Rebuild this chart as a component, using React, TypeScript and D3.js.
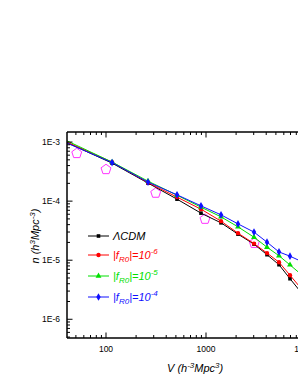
import { useEffect, useRef } from "react"
import * as d3 from "d3"

// cell volumes V (h^-3 Mpc^3) of the simulated points
const volumes = [33, 115, 263, 513, 891, 1413, 2089, 3020, 4074, 5370, 6918, 8900]

// number density n (h^3 Mpc^-3)
const lcdm = [1.15e-3, 4.4e-4, 2.02e-4, 1.08e-4, 6.26e-5, 4.29e-5, 2.76e-5, 1.87e-5, 1.24e-5, 8.39e-6, 4.86e-6, 2.87e-6]
const fr6 = [1.17e-3, 4.58e-4, 2.06e-4, 1.17e-4, 7.31e-5, 4.58e-5, 2.87e-5, 1.91e-5, 1.32e-5, 9.25e-6, 5.57e-6, 3.35e-6]
const fr5 = [1.24e-3, 4.58e-4, 2.18e-4, 1.26e-4, 7.91e-5, 5.42e-5, 3.67e-5, 2.45e-5, 1.66e-5, 1.19e-5, 8.32e-6, 5.79e-6]
const fr4 = [1.12e-3, 4.5e-4, 2.1e-4, 1.28e-4, 8.32e-5, 5.86e-5, 4.12e-5, 2.99e-5, 2.02e-5, 1.38e-5, 1.17e-5, 9.6e-6]

// observational points (open pentagons)
const obsV = [51, 100, 314, 977, 3041]
const obsN = [6.43e-4, 3.44e-4, 1.37e-4, 4.96e-5, 1.94e-5]

const xTicks = [100, 1000, 10000]
const yTicks = [1e-3, 1e-4, 1e-5, 1e-6]
const yTickLabels = ["1E-3", "1E-4", "1E-5", "1E-6"]

const series = [
  { name: "lcdm", exp: "", values: lcdm, color: "#000000", symbol: "square" },
  { name: "fr6", exp: "-6", values: fr6, color: "#ff0000", symbol: "circle" },
  { name: "fr5", exp: "-5", values: fr5, color: "#00e000", symbol: "triangle" },
  { name: "fr4", exp: "-4", values: fr4, color: "#1010ff", symbol: "diamond" },
]

const W = 298
const H = 385
const FONT = "'Liberation Sans', Arial, sans-serif"

function pentagon(r: number) {
  const pts: string[] = []
  for (let i = 0; i < 5; i++) {
    const a = -Math.PI / 2 + (i * 2 * Math.PI) / 5
    pts.push(`${(r * Math.cos(a)).toFixed(2)},${(r * Math.sin(a)).toFixed(2)}`)
  }
  return "M" + pts.join("L") + "Z"
}

function symbolPath(kind: string) {
  if (kind === "square") return d3.symbol(d3.symbolSquare, 13)()
  if (kind === "circle") return d3.symbol(d3.symbolCircle, 15)()
  if (kind === "triangle") return d3.symbol(d3.symbolTriangle, 15)()
  return d3.symbol(d3.symbolDiamond, 17)()
}

export default function App() {
  const svgRef = useRef<SVGSVGElement>(null)

  useEffect(() => {
    const svg = d3.select(svgRef.current)
    svg.selectAll("*").remove()

    const left = 67
    const right = 320
    const top = 132
    const bottom = 338

    const x = d3.scaleLog().domain([Math.pow(10, 1.61), Math.pow(10, 4.14)]).range([left, right])
    const y = d3.scaleLog().domain([4.82e-7, 1.48e-3]).range([bottom, top])

    svg.append("rect").attr("width", W).attr("height", H).attr("fill", "#fff")

    svg
      .append("defs")
      .append("clipPath")
      .attr("id", "plot-clip")
      .append("rect")
      .attr("x", left)
      .attr("y", top)
      .attr("width", right - left)
      .attr("height", bottom - top)

    const plot = svg.append("g").attr("clip-path", "url(#plot-clip)")

    // pentagons
    plot
      .selectAll("path.obs")
      .data(obsV.map((v, i) => ({ v, n: obsN[i] })))
      .join("path")
      .attr("class", "obs")
      .attr("d", pentagon(5.2))
      .attr("transform", (d) => `translate(${x(d.v)},${y(d.n)})`)
      .attr("fill", "none")
      .attr("stroke", "#ff33ff")
      .attr("stroke-width", 1)

    const line = d3
      .line<number>()
      .x((_, i) => x(volumes[i]))
      .y((d) => y(d))

    series.forEach((s) => {
      plot
        .append("path")
        .datum(s.values)
        .attr("fill", "none")
        .attr("stroke", s.color)
        .attr("stroke-width", 1)
        .attr("d", line)
      plot
        .selectAll(`path.m-${s.name}`)
        .data(s.values)
        .join("path")
        .attr("class", `m-${s.name}`)
        .attr("d", symbolPath(s.symbol))
        .attr("transform", (d, i) => `translate(${x(volumes[i])},${y(d)})`)
        .attr("fill", s.color)
    })

    // axes frame
    const axis = svg.append("g").attr("stroke", "#000").attr("fill", "none")
    axis.append("line").attr("x1", left).attr("x2", right).attr("y1", bottom).attr("y2", bottom).attr("stroke-width", 1.5)
    axis.append("line").attr("x1", left).attr("x2", right).attr("y1", top).attr("y2", top).attr("stroke-width", 1.5)
    axis.append("line").attr("x1", left).attr("x2", left).attr("y1", top).attr("y2", bottom).attr("stroke-width", 1.5)

    // x ticks
    const xMinor: number[] = []
    for (let dec = 10; dec <= 10000; dec *= 10) {
      for (let k = 2; k <= 9; k++) {
        const v = dec * k
        if (x(v) > left && x(v) < right) xMinor.push(v)
      }
    }
    xMinor.forEach((v) => {
      axis.append("line").attr("x1", x(v)).attr("x2", x(v)).attr("y1", bottom).attr("y2", bottom - 3).attr("stroke-width", 1)
      axis.append("line").attr("x1", x(v)).attr("x2", x(v)).attr("y1", top).attr("y2", top + 3).attr("stroke-width", 1)
    })
    xTicks.forEach((v) => {
      axis.append("line").attr("x1", x(v)).attr("x2", x(v)).attr("y1", bottom).attr("y2", bottom - 5.5).attr("stroke-width", 1)
      axis.append("line").attr("x1", x(v)).attr("x2", x(v)).attr("y1", top).attr("y2", top + 5.5).attr("stroke-width", 1)
      svg
        .append("text")
        .attr("x", x(v))
        .attr("y", bottom + 14)
        .attr("text-anchor", "middle")
        .attr("font-family", FONT)
        .attr("font-size", 8.5)
        .text(String(v))
    })

    // y ticks
    const yMinor: number[] = []
    for (let dec = 1e-7; dec <= 1e-3; dec *= 10) {
      for (let k = 2; k <= 9; k++) {
        const v = dec * k
        if (y(v) > top && y(v) < bottom) yMinor.push(v)
      }
    }
    yMinor.forEach((v) => {
      axis.append("line").attr("x1", left).attr("x2", left + 3).attr("y1", y(v)).attr("y2", y(v)).attr("stroke-width", 1)
    })
    yTicks.forEach((v, i) => {
      axis.append("line").attr("x1", left).attr("x2", left + 5.5).attr("y1", y(v)).attr("y2", y(v)).attr("stroke-width", 1)
      svg
        .append("text")
        .attr("x", left - 7)
        .attr("y", y(v) + 3)
        .attr("text-anchor", "end")
        .attr("font-family", FONT)
        .attr("font-size", 8.5)
        .text(yTickLabels[i])
    })

    // axis titles
    const xt = svg
      .append("text")
      .attr("x", 167)
      .attr("y", 372)
      .attr("font-family", FONT)
      .attr("font-size", 11)
      .attr("font-style", "italic")
    xt.append("tspan").text("V (h")
    xt.append("tspan").attr("dy", -4).attr("font-size", 8).text("-3")
    xt.append("tspan").attr("dy", 4).text("Mpc")
    xt.append("tspan").attr("dy", -4).attr("font-size", 8).text("3")
    xt.append("tspan").attr("dy", 4).text(")")

    const yt = svg
      .append("text")
      .attr("transform", "translate(39,236) rotate(-90)")
      .attr("text-anchor", "middle")
      .attr("font-family", FONT)
      .attr("font-size", 11)
      .attr("font-style", "italic")
    yt.append("tspan").text("n (h")
    yt.append("tspan").attr("dy", -4).attr("font-size", 8).text("3")
    yt.append("tspan").attr("dy", 4).text("Mpc")
    yt.append("tspan").attr("dy", -4).attr("font-size", 8).text("-3")
    yt.append("tspan").attr("dy", 4).text(")")

    // legend
    const rows = [236, 255, 276, 297]
    series.forEach((s, i) => {
      const g = svg.append("g").attr("transform", `translate(0,${rows[i]})`)
      g.append("line").attr("x1", 88).attr("x2", 109).attr("y1", 0).attr("y2", 0).attr("stroke", s.color).attr("stroke-width", 1)
      g.append("path").attr("d", symbolPath(s.symbol)).attr("transform", "translate(98.5,0)").attr("fill", s.color)
      const t = g
        .append("text")
        .attr("x", 113)
        .attr("y", 4)
        .attr("font-family", FONT)
        .attr("font-size", 11)
        .attr("font-style", "italic")
        .attr("fill", s.color)
      if (s.exp === "") {
        t.text("\u039BCDM")
      } else {
        t.append("tspan").text("|f")
        t.append("tspan").attr("dy", 3).attr("font-size", 8).text("R0")
        t.append("tspan").attr("dy", -3).text("|=10")
        t.append("tspan").attr("dy", -5).attr("font-size", 8).text(s.exp)
      }
    })
  }, [])

  return (
    <svg
      ref={svgRef}
      width={W}
      height={H}
      style={{ position: "absolute", left: 0, top: 0, overflow: "hidden" }}
    />
  )
}
